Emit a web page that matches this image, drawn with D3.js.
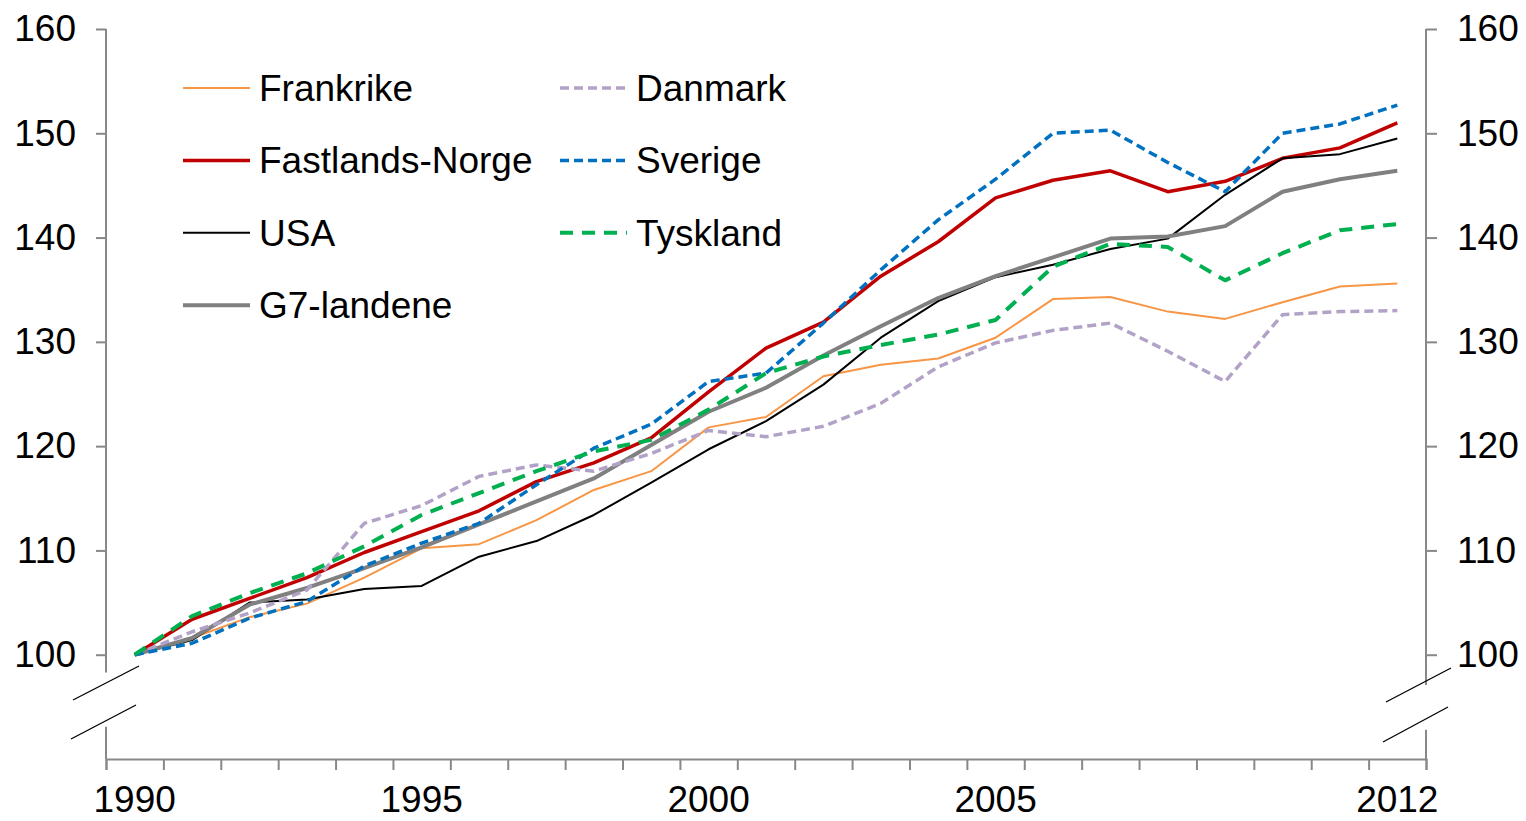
<!DOCTYPE html>
<html>
<head>
<meta charset="utf-8">
<script src="https://cdn.jsdelivr.net/npm/d3@7"></script>
<style>
  body { margin: 0; background: #fff; }
  text { font-family: "Liberation Sans", Arial, sans-serif; }
</style>
</head>
<body>
<div id="chart"></div>
<script>
// data, index 1990 = 100
const years = d3.range(1990, 2013);
const yearLabels = [1990, 1995, 2000, 2005, 2012];
const yTicks = [100, 110, 120, 130, 140, 150, 160];

const frankrike = [100, 101.6, 103.6, 104.9, 107.4, 110.2, 110.6, 112.9, 115.8, 117.6, 121.8, 122.8, 126.7, 127.8, 128.4, 130.4, 134.1, 134.3, 132.9, 132.2, 133.8, 135.3, 135.6];
const norge = [100, 103.4, 105.4, 107.4, 109.8, 111.8, 113.8, 116.6, 118.4, 120.8, 125.2, 129.4, 131.9, 136.3, 139.6, 143.8, 145.5, 146.4, 144.4, 145.4, 147.6, 148.6, 151.0];
const usa = [100, 101.4, 105.0, 105.3, 106.3, 106.6, 109.4, 110.9, 113.4, 116.5, 119.7, 122.4, 125.9, 130.4, 133.9, 136.2, 137.4, 138.9, 139.9, 144.1, 147.6, 148.0, 149.5];
const g7 = [100, 101.6, 104.8, 106.4, 108.3, 110.3, 112.5, 114.7, 116.9, 120.1, 123.3, 125.6, 128.7, 131.5, 134.2, 136.3, 138.1, 139.9, 140.1, 141.1, 144.4, 145.6, 146.4];
const danmark = [100, 102.2, 104.0, 106.2, 112.6, 114.3, 117.1, 118.2, 117.6, 119.3, 121.5, 120.9, 121.9, 124.1, 127.6, 129.9, 131.1, 131.8, 129.1, 126.2, 132.6, 132.9, 133.0];
const sverige = [100, 101.1, 103.5, 105.1, 108.5, 110.7, 112.6, 116.3, 119.8, 122.1, 126.2, 127.0, 131.8, 136.9, 141.7, 145.6, 150.0, 150.3, 147.2, 144.4, 150.0, 150.9, 152.7];
const tyskland = [100, 103.7, 105.9, 107.8, 110.4, 113.4, 115.5, 117.6, 119.5, 120.6, 123.5, 127.0, 128.6, 129.7, 130.7, 132.1, 137.2, 139.4, 139.1, 135.9, 138.5, 140.7, 141.3];

const series = [
  {name: "Frankrike", values: frankrike, color: "#F79646", width: 2, dash: null, col: 0, row: 0},
  {name: "Fastlands-Norge", values: norge, color: "#C00000", width: 3.5, dash: null, col: 0, row: 1},
  {name: "USA", values: usa, color: "#000000", width: 2, dash: null, col: 0, row: 2},
  {name: "G7-landene", values: g7, color: "#808080", width: 4, dash: null, col: 0, row: 3},
  {name: "Danmark", values: danmark, color: "#B3A2C7", width: 3.5, dash: "9,5", col: 1, row: 0},
  {name: "Sverige", values: sverige, color: "#0070C0", width: 3.5, dash: "9,5", col: 1, row: 1},
  {name: "Tyskland", values: tyskland, color: "#00B050", width: 4, dash: "13,9", col: 1, row: 2}
];

const width = 1526;
const height = 821;
const margin = {top: 29, left: 106, right: 100, bottom: 62};
const axisColor = "#888888";
const fontSize = 37;

const svg = d3.select("#chart")
  .append("svg")
  .attr("width", width)
  .attr("height", height);

const xScale = d3.scaleBand()
  .domain(years)
  .range([margin.left, width - margin.right])
  .padding(0);

const xEdge = d3.scaleLinear()
  .domain([0, years.length])
  .range([margin.left, width - margin.right]);

const yScale = d3.scaleLinear()
  .domain([90, 160])
  .range([height - margin.bottom, margin.top]);

const cx = function(yr) { return xScale(yr) + xScale.bandwidth() / 2; };

// y axes (domain drawn by hand because of the break)
const yLeft = svg.append("g")
  .attr("transform", `translate(${margin.left},0)`)
  .call(d3.axisLeft(yScale).tickValues(yTicks).tickSize(10).tickPadding(20));

const yRight = svg.append("g")
  .attr("transform", `translate(${width - margin.right},0)`)
  .call(d3.axisRight(yScale).tickValues(yTicks).tickSize(11).tickPadding(20));

[yLeft, yRight].forEach(function(g) {
  g.select(".domain").remove();
  g.selectAll("line").attr("stroke", axisColor).attr("stroke-width", 2);
  g.selectAll("text").attr("font-size", fontSize).attr("fill", "#000")
    .style("font-family", "Liberation Sans, Arial, sans-serif");
});

const axisLines = [
  {x: margin.left, from: 160, to: 98.3},
  {x: margin.left, from: 93.1, to: 90},
  {x: width - margin.right, from: 160, to: 97.1},
  {x: width - margin.right, from: 92.8, to: 90}
];
svg.selectAll(".ydomain")
  .data(axisLines)
  .enter()
  .append("line")
  .attr("x1", d => d.x).attr("x2", d => d.x)
  .attr("y1", d => yScale(d.from)).attr("y2", d => yScale(d.to))
  .attr("stroke", axisColor)
  .attr("stroke-width", 2);

// break marks
const breaks = [
  [73, 700, 139, 666], [71, 739, 136, 705],
  [1386, 702, 1451, 668], [1383, 742, 1448, 707]
];
svg.selectAll(".brk")
  .data(breaks)
  .enter()
  .append("line")
  .attr("x1", d => d[0]).attr("y1", d => d[1])
  .attr("x2", d => d[2]).attr("y2", d => d[3])
  .attr("stroke", "#000")
  .attr("stroke-width", 1.3);

// x axis
const xAxis = svg.append("g")
  .attr("transform", `translate(0,${height - margin.bottom})`)
  .call(d3.axisBottom(xEdge).tickValues(d3.range(years.length + 1)).tickSize(11).tickFormat(""));
xAxis.select(".domain").attr("stroke", axisColor).attr("stroke-width", 2);
xAxis.selectAll("line").attr("stroke", axisColor).attr("stroke-width", 2);

svg.selectAll(".xlabel")
  .data(yearLabels)
  .enter()
  .append("text")
  .attr("x", d => cx(d))
  .attr("y", 812)
  .attr("text-anchor", "middle")
  .attr("font-size", fontSize)
  .text(d => d);

// lines
const line = d3.line()
  .x((d, i) => cx(years[i]))
  .y(d => yScale(d));

svg.selectAll(".series")
  .data(series)
  .enter()
  .append("path")
  .attr("d", d => line(d.values))
  .attr("fill", "none")
  .attr("stroke", d => d.color)
  .attr("stroke-width", d => d.width)
  .attr("stroke-dasharray", d => d.dash)
  .attr("stroke-linejoin", "round");

// legend
const legend = svg.selectAll(".legend")
  .data(series)
  .enter()
  .append("g")
  .attr("transform", d => `translate(${d.col === 0 ? 183 : 560},${88 + d.row * 72.4})`);

legend.append("line")
  .attr("x1", 0).attr("x2", 67)
  .attr("y1", 0).attr("y2", 0)
  .attr("stroke", d => d.color)
  .attr("stroke-width", d => d.width)
  .attr("stroke-dasharray", d => d.dash);

legend.append("text")
  .attr("x", 76)
  .attr("y", 0)
  .attr("dy", "0.35em")
  .attr("font-size", fontSize)
  .text(d => d.name);
</script>
</body>
</html>
